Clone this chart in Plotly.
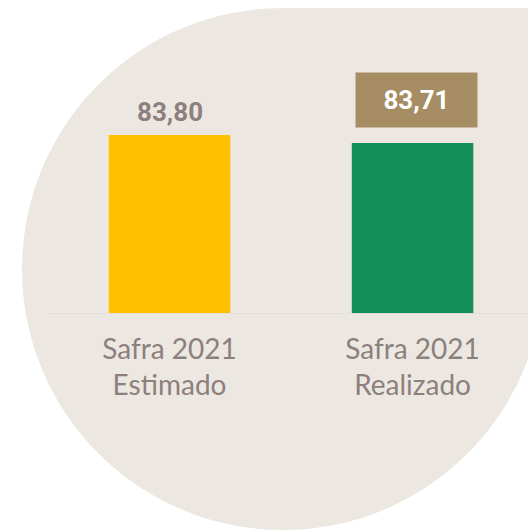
import plotly.graph_objects as go

categories = ["Safra 2021<br>Estimado", "Safra 2021<br>Realizado"]
values = [83.80, 83.71]
value_labels = ["83,80", "83,71"]
bar_colors = ["#FFC000", "#138F5A"]

W, H = 528, 532
TEXT_GRAY = "#8C7F7D"
BEIGE = "#ECE7E1"

def px_x(p):
    return p / W

def px_y(p):
    return 1 - p / H

fig = go.Figure()
fig.add_trace(go.Bar(
    x=categories, y=values,
    marker=dict(color=bar_colors, line=dict(width=0)),
    hoverinfo="skip",
))

# value labels
fig.add_annotation(
    x=categories[0], y=values[0], xref="x", yref="y",
    text="<b>" + value_labels[0] + "</b>", showarrow=False,
    yanchor="bottom", yshift=6,
    font=dict(family="Roboto, Lato, sans-serif", size=26, color=TEXT_GRAY),
)
fig.add_annotation(
    x=categories[1], y=values[1], xref="x", yref="y",
    text="<b>" + value_labels[1] + "</b>", showarrow=False,
    yanchor="bottom", yshift=15, xshift=4,
    width=117, height=50, borderpad=2,
    bgcolor="#A68D63",
    font=dict(family="Roboto, Lato, sans-serif", size=26, color="#FFFFFF"),
)

# background blob: circle + top-right square corner
cx, cy, r = 283, 269, 261
fig.add_shape(type="circle", xref="paper", yref="paper",
              x0=px_x(cx - r), x1=px_x(cx + r), y0=px_y(cy + r), y1=px_y(cy - r),
              fillcolor=BEIGE, line=dict(width=0), layer="below")
fig.add_shape(type="rect", xref="paper", yref="paper",
              x0=px_x(cx), x1=1.1, y0=px_y(cy), y1=px_y(8),
              fillcolor=BEIGE, line=dict(width=0), layer="below")

fig.update_layout(
    width=W, height=H,
    margin=dict(l=0, r=0, t=0, b=0, pad=0),
    paper_bgcolor="#FFFFFF",
    plot_bgcolor="rgba(0,0,0,0)",
    bargap=0.5,
    showlegend=False,
    xaxis=dict(
        domain=[px_x(48), 1],
        range=[-0.5, 1.475],
        showline=True, linecolor="#E2DED9", linewidth=1,
        showgrid=False, zeroline=False, ticks="",
        tickfont=dict(family="Lato, sans-serif", size=28, color=TEXT_GRAY),
        ticklabelstandoff=11,
        fixedrange=True,
    ),
    yaxis=dict(
        domain=[px_y(313), px_y(20)],
        range=[81.8, 81.8 + (313 - 20) / 89],
        visible=False, showgrid=False, zeroline=False,
        fixedrange=True,
    ),
)

fig.write_html("out.html", config={"displayModeBar": False},
               post_script="document.body.style.margin='0px';")
